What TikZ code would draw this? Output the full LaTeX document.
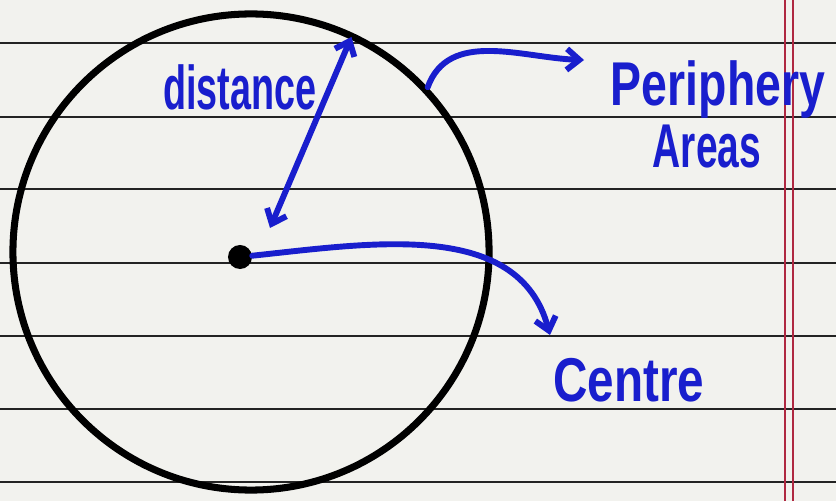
\documentclass[tikz,border=0pt]{standalone}
\usepackage{fontspec}
\setmainfont{Liberation Sans}
\usetikzlibrary{arrows.meta}
\definecolor{paperwhite}{RGB}{242,242,238}
\definecolor{ruleline}{RGB}{35,35,35}
\definecolor{marginred}{RGB}{175,40,65}
\definecolor{penblue}{RGB}{25,30,205}

\begin{document}
\begin{tikzpicture}[x=0.025cm,y=0.025cm,
  >={Straight Barb[length=9pt,width=15pt]},
  ink/.style={penblue,line width=4.2pt,line cap=round,line join=round},
  word/.style={text=penblue,font=\fontsize{44}{48}\selectfont\bfseries,inner sep=0pt,transform shape}]
\useasboundingbox (0,0) rectangle (836,501);
\fill[paperwhite] (0,0) rectangle (836,501);
\foreach \yy in {19,92,165,238,312,384,458} {\draw[ruleline,line width=1.5pt] (0,\yy) -- (836,\yy);}
\foreach \xx in {785,793} {\draw[marginred,line width=0.9pt] (\xx,0) -- (\xx,501);}
\node[draw,circle,line width=5pt,minimum size=11.9cm,inner sep=0pt] (region) at (251,249) {};
\node[circle,fill=black,minimum size=0.6cm,inner sep=0pt] (dot) at (240,244) {};
\node[word,xscale=0.61] (dist) at (240,414) {distance};
\node[word,xscale=0.75] (periph) at (718,411) {Periphery};
\node[word,xscale=0.63] (areas) at (707,354) {Areas};
\node[word,xscale=0.77] (centre) at (629,121) {Centre};
\coordinate (inner) at (270,273);
\coordinate (periph tip) at (584,441);
\coordinate (centre tip) at (550,166);
\draw[ink,<->,shorten >=3pt] (inner) -- (region.65);
\draw[ink,->] (region.43) to[out=70,in=178] (periph tip);
\draw[ink,->] (dot) to[out=6,in=105] (centre tip);
\end{tikzpicture}
\end{document}
